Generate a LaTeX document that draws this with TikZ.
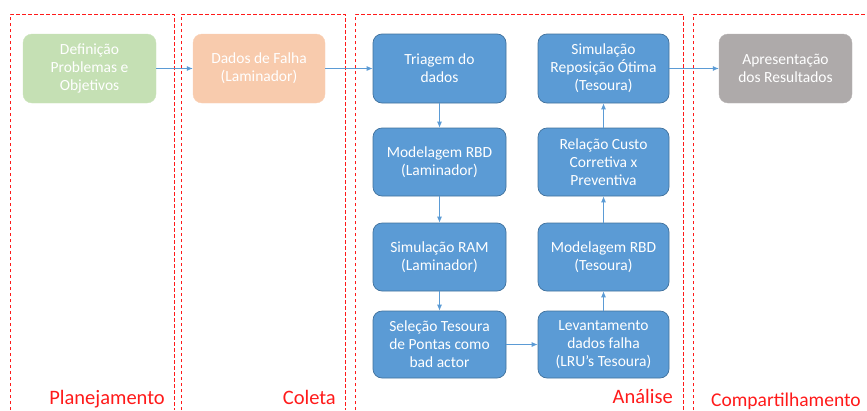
\documentclass[tikz,border=0pt]{standalone}
\usepackage{fontspec}
\setmainfont{Carlito}
\usetikzlibrary{arrows.meta}
\definecolor{boxblue}{HTML}{5B9BD5}
\definecolor{boxedge}{HTML}{41719C}
\definecolor{boxgreen}{HTML}{C5E0B4}
\definecolor{boxorange}{HTML}{F8CBAD}
\definecolor{boxgray}{HTML}{AEAAAA}
\definecolor{phasered}{HTML}{FF1A1A}
\tikzset{flow/.style = {draw=boxblue, line width=0.8pt, -{Latex[length=6pt,width=5pt]}}}

\begin{document}
\begin{tikzpicture}[x=1pt,y=-1pt,
    box/.style={rounded corners=9pt, minimum width=133pt, minimum height=69pt,
        inner sep=2pt, align=center, text=white,
        font={\fontsize{15.5}{18}\selectfont}},
    step2/.style={box, fill=boxblue, draw=boxedge, line width=0.7pt},
    frame/.style={draw=phasered, line width=1pt, dash pattern=on 3.5pt off 2.5pt},
    phase/.style={text=phasered, font={\fontsize{20.5}{24}\selectfont}, inner sep=0pt},
    ]
    \useasboundingbox (0,0) rectangle (867,410);

    % phase frames
    \draw[frame] (10,410) -- (10,14) -- (174,14) -- (174,410);
    \draw[frame] (181,410) -- (181,14) -- (345,14) -- (345,410);
    \draw[frame] (355,410) -- (355,14) -- (683,14) -- (683,410);
    \draw[frame] (693,410) -- (693,14) -- (866,14);

    \node[phase, anchor=base east] (planej) at (165,404) {Planejamento};
    \node[phase, anchor=base east] (coleta) at (336,404) {Coleta};
    \node[phase, anchor=base east] (analise) at (673,403) {Análise};
    \node[phase, anchor=base west, font={\fontsize{19.5}{24}\selectfont}] (compart) at (711,406) {Compartilhamento};

    % first row
    \node[box, fill=boxgreen, draw=boxgreen!90!white] (defi) at (89.5,68.5) {Definição\\Problemas e\\Objetivos};
    \node[box, fill=boxorange, draw=boxorange!90!white, minimum width=132pt] (dados) at (259,68.5) {Dados de Falha\\(Laminador)};
    \node[step2] (triagem) at (439.5,68.5) {Triagem do\\dados};
    \node[step2, minimum width=131pt] (simrep) at (603.5,68.5) {Simulação\\Reposição Ótima\\(Tesoura)};
    \node[box, fill=boxgray, draw=boxgray!90!white] (apres) at (785.5,68.5) {Apresentação\\dos Resultados};

    % analysis, left column
    \node[step2, minimum height=68pt] (modlam) at (439.5,162) {Modelagem RBD\\(Laminador)};
    \node[step2, minimum height=68pt] (simram) at (439.5,257) {Simulação RAM\\(Laminador)};
    \node[step2, minimum height=67pt] (selec) at (439.5,344.5) {Seleção Tesoura\\de Pontas como\\bad actor};

    % analysis, right column
    \node[step2, minimum width=131pt, minimum height=68pt] (relac) at (603.5,162) {Relação Custo\\Corretiva x\\Preventiva};
    \node[step2, minimum width=131pt, minimum height=68pt] (modtes) at (603.5,257) {Modelagem RBD\\(Tesoura)};
    \node[step2, minimum width=131pt, minimum height=67pt] (levant) at (603.5,344.5) {Levantamento\\dados falha\\(LRU’s Tesoura)};

    \draw[flow] (defi) -- (dados);
    \draw[flow] (dados) -- (triagem);
    \draw[flow] (triagem) -- (modlam);
    \draw[flow] (modlam) -- (simram);
    \draw[flow] (simram) -- (selec);
    \draw[flow] (selec) -- (levant);
    \draw[flow] (levant) -- (modtes);
    \draw[flow] (modtes) -- (relac);
    \draw[flow] (relac) -- (simrep);
    \draw[flow] (simrep) -- (apres);

\end{tikzpicture}
\end{document}
